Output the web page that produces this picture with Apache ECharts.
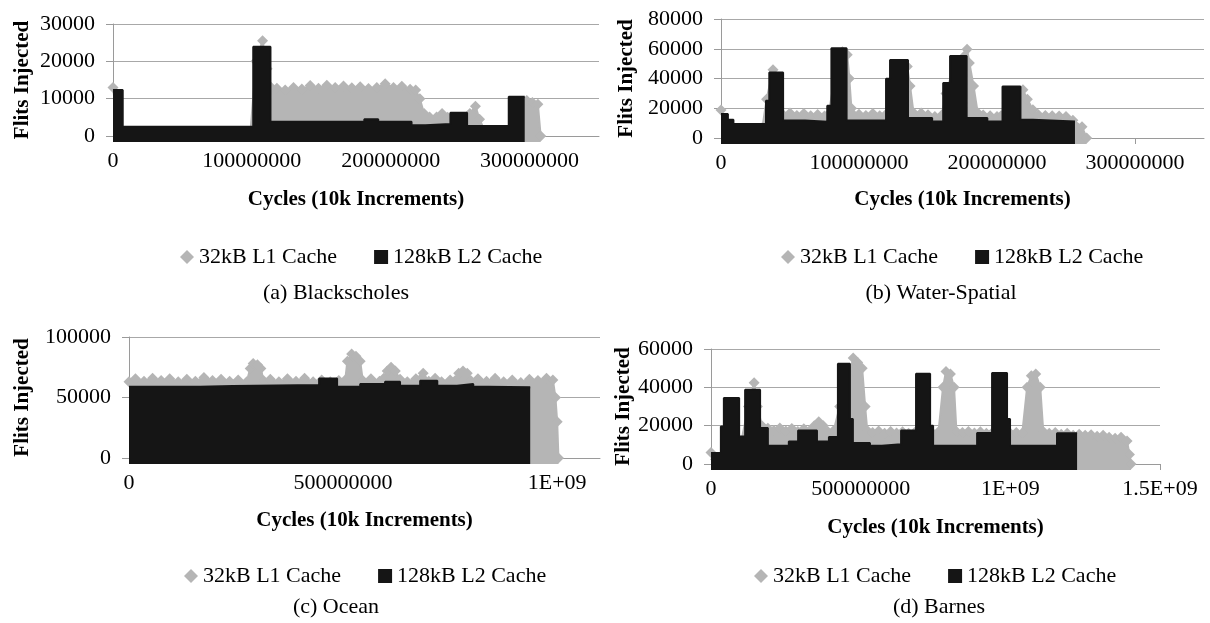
<!DOCTYPE html>
<html><head><meta charset="utf-8">
<script src="https://cdn.jsdelivr.net/npm/echarts@6/dist/echarts.min.js"></script>
<style>html,body{margin:0;padding:0;background:#fff}#c{width:1210px;height:623px}</style>
</head><body><div id="c"></div>
<script>
// ---------- DATA (x in millions of cycles, y in flits injected) ----------
const seriesNames = ['32kB L1 Cache', '128kB L2 Cache'];
const captions = ['(a) Blackscholes', '(b) Water-Spatial', '(c) Ocean', '(d) Barnes'];
const xAxisTitle = 'Cycles (10k Increments)';
const yAxisTitle = 'Flits Injected';

// (a) Blackscholes
const aL1X = [0, 4, 99, 103, 107.7, 111, 114, 118, 124, 130, 136, 142, 148, 154, 160, 166, 172, 178, 184, 190, 196, 202, 208, 214, 218, 221, 224, 228, 233, 237, 241, 250, 257, 261, 264, 268, 284, 298, 302, 306, 308];
const aL1Y = [13000, 1000, 1000, 20000, 25500, 18000, 13000, 12800, 12300, 13000, 12600, 13500, 12800, 13600, 13000, 13400, 12900, 13200, 12700, 13000, 14000, 13000, 13300, 12500, 12300, 10000, 6000, 5100, 5100, 6000, 5000, 4500, 6000, 8000, 4500, 1000, 1000, 9500, 9000, 8500, 0];
const aL2X = [0, 7, 101, 113.4, 181, 191, 215, 225, 243, 255, 285, 296.5];
const aL2Y = [12300, 2500, 23900, 3800, 4500, 3800, 2900, 3200, 6200, 2700, 10500, 10500];

// (b) Water-Spatial
const bL1X = [0, 4, 30, 33, 37.7, 41, 45, 50, 55, 60, 65, 70, 75, 78, 84, 88, 91.5, 93, 94.5, 96, 100, 105, 110, 115, 119, 128, 135, 137, 139.5, 145, 150, 155, 160, 163, 170, 178.3, 180, 183, 186, 190, 195, 200, 203, 210, 218.8, 222, 226, 230, 235, 240, 245, 250, 255, 261.6, 265];
const bL1Y = [18900, 8000, 7000, 26000, 45800, 30000, 15600, 16800, 15200, 16500, 15000, 15800, 14800, 16000, 50000, 58000, 56000, 40000, 20000, 15600, 16000, 15200, 16500, 15000, 15500, 48000, 48000, 35000, 17000, 16800, 15600, 14500, 15500, 30000, 52000, 59700, 50500, 35000, 17000, 15500, 15000, 14500, 15000, 30000, 32400, 26000, 19000, 15600, 15200, 15000, 14800, 14500, 12000, 7500, 0];
const bL2X = [0, 5, 9, 32.6, 35, 45, 61, 77, 80, 91, 119.6, 122.5, 135.5, 153, 161, 166, 178, 193, 204, 217, 226, 256.5];
const bL2Y = [16200, 12200, 9400, 25000, 44000, 11800, 11000, 21700, 60400, 11800, 39800, 52500, 13400, 11100, 36900, 55200, 13400, 11100, 34600, 12300, 11100, 11100];

// (c) Ocean
const cL1X = [0, 15, 35, 55, 75, 95, 115, 135, 155, 175, 195, 215, 235, 255, 275, 283, 290, 300, 308, 314, 330, 350, 370, 390, 410, 430, 450, 470, 490, 505, 510, 520, 530, 540, 546, 565, 585, 595, 603, 612, 622, 633, 650, 670, 687, 700, 715, 730, 750, 762, 770, 780, 790, 798, 815, 835, 855, 875, 895, 915, 935, 955, 975, 990, 996, 1000, 1003];
const cL1Y = [63000, 65500, 63500, 66000, 64000, 65500, 63000, 65000, 63500, 66500, 64000, 65000, 63500, 64500, 63000, 74000, 78000, 77000, 74000, 64000, 65000, 63000, 65500, 63500, 66000, 63000, 64500, 63000, 64000, 64500, 80000, 86000, 84000, 80000, 64000, 65500, 63500, 66000, 72000, 75000, 72000, 65000, 63000, 65500, 70000, 63500, 66000, 63000, 64500, 64000, 70000, 72000, 70000, 64000, 65500, 63500, 66000, 63000, 64500, 62500, 65000, 64000, 66000, 64500, 50000, 30000, 0];
const cL2X = [0, 166, 243, 444, 486, 540, 598, 633, 680, 720, 766, 804, 839, 937];
const cL2Y = [58900, 59500, 60300, 65800, 58900, 61100, 63000, 59700, 63800, 59700, 61100, 58900, 58400, 58400];

// (d) Barnes
const dL1X = [0, 15, 60, 100, 125, 144, 155, 170, 190, 210, 230, 250, 270, 290, 310, 330, 345, 360, 375, 390, 410, 430, 460, 475, 490, 505, 515, 522, 540, 560, 580, 600, 620, 640, 660, 680, 700, 720, 740, 760, 775, 785, 800, 812, 820, 840, 860, 880, 900, 920, 940, 960, 980, 1000, 1020, 1040, 1056, 1070, 1085, 1100, 1110, 1130, 1150, 1170, 1190, 1210, 1230, 1250, 1270, 1290, 1310, 1330, 1350, 1370, 1390, 1398, 1403];
const dL1Y = [6000, 2500, 10000, 11000, 30000, 42400, 30000, 20000, 18600, 17500, 18800, 17200, 18500, 17000, 18400, 17500, 20000, 22000, 20000, 17000, 17500, 30000, 45000, 55300, 53000, 50000, 30000, 17500, 16500, 17200, 16000, 17000, 16200, 16800, 16000, 16500, 16000, 16800, 16200, 16800, 40000, 48300, 47000, 40000, 17000, 16500, 17000, 16200, 16800, 16000, 16500, 16000, 16800, 16000, 16500, 16200, 40000, 46000, 47000, 40000, 17000, 16000, 16500, 15500, 16000, 15000, 15500, 15000, 15300, 14500, 15000, 14000, 13500, 14000, 12000, 5000, 0];
const dL2X = [0, 33, 43, 94, 114, 164, 190, 260, 291, 354, 394, 424, 464, 474, 531, 571, 635, 685, 732, 742, 889, 939, 989, 999, 1156, 1223];
const dL2Y = [5700, 19600, 34400, 14400, 38800, 18800, 9500, 11800, 17500, 11800, 14100, 52300, 23500, 11000, 9500, 10300, 17500, 47100, 20000, 9500, 16200, 47500, 23500, 9500, 16000, 16000];

// tick values
const xTicksA = [0, 100000000, 200000000, 300000000];
const xTicksB = [0, 100000000, 200000000, 300000000];
const xTicksC = [0, 500000000, 1000000000];
const xTicksD = [0, 500000000, 1000000000, 1500000000];
const yTicksA = [0, 10000, 20000, 30000];
const yTicksB = [0, 20000, 40000, 60000, 80000];
const yTicksC = [0, 50000, 100000];
const yTicksD = [0, 20000, 40000, 60000];

// ---------- LAYOUT / STYLE ----------
const FONT = '"Liberation Serif", "Times New Roman", serif';
const GRAY = '#b5b5b5';
const BLACK = '#151515';
const GRID_C = '#a8a8a8';
const AXIS_C = '#9a9a9a';
const FS = 22;
const MARKER_OVERHANG_PX = 6; // markers in the original spill slightly below the zero line

const panels = [
  {l1x:aL1X,l1y:aL1Y,l2x:aL2X,l2y:aL2Y,xt:xTicksA,yt:yTicksA,xMax:350e6,
   grid:{left:113,top:24,width:486,height:112},yGap:80,xGap:53,legC:361,legY:246,capC:336,capY:282},
  {l1x:bL1X,l1y:bL1Y,l2x:bL2X,l2y:bL2Y,xt:xTicksB,yt:yTicksB,xMax:350e6,
   grid:{left:721,top:19,width:483,height:119},yGap:84,xGap:51,legC:962,legY:246,capC:941,capY:282},
  {l1x:cL1X,l1y:cL1Y,l2x:cL2X,l2y:cL2Y,xt:xTicksC,yt:yTicksC,xMax:1.1e9,
   grid:{left:129,top:337,width:471,height:121},yGap:96,xGap:52,legC:365,legY:565,capC:336,capY:596},
  {l1x:dL1X,l1y:dL1Y,l2x:dL2X,l2y:dL2Y,xt:xTicksD,yt:yTicksD,xMax:1.5e9,
   grid:{left:711,top:349,width:449,height:115},yGap:76,xGap:53,legC:935,legY:565,capC:939,capY:596}
];

function fmtX(v){
  if (v === 0) return '0';
  if (v >= 1e9) return (v/1e9) + 'E+09';
  return String(Math.round(v));
}
function fmtY(v){ return String(Math.round(v)); }

const ctx = document.createElement('canvas').getContext('2d');
ctx.font = FS + 'px ' + FONT;
const ITEM_W = 14, ITEM_GAP = 37, ICON_GAP = 5;
const legW = ctx.measureText(seriesNames[0]).width + ctx.measureText(seriesNames[1]).width + 2*ITEM_W + 2*ICON_GAP + ITEM_GAP;

const option = {
  animation:false,
  backgroundColor:'#fff',
  textStyle:{fontFamily:FONT},
  grid:[], xAxis:[], yAxis:[], series:[], legend:[], title:[]
};

panels.forEach((p, i) => {
  const yMax = p.yt[p.yt.length-1];
  const below = -MARKER_OVERHANG_PX * yMax / p.grid.height;
  option.grid.push(Object.assign({containLabel:false}, p.grid));
  option.xAxis.push({
    type:'value', gridIndex:i, min:0, max:p.xMax,
    name:xAxisTitle, nameLocation:'middle', nameGap:p.xGap,
    nameTextStyle:{fontFamily:FONT,fontSize:21,fontWeight:'bold',color:'#000'},
    axisLine:{show:true,onZero:false,lineStyle:{color:AXIS_C,width:1}},
    axisTick:{show:true,length:6,customValues:p.xt,lineStyle:{color:AXIS_C}},
    axisLabel:{customValues:p.xt,formatter:fmtX,fontFamily:FONT,fontSize:FS,color:'#000',margin:14},
    splitLine:{show:false}
  });
  option.yAxis.push({
    type:'value', gridIndex:i, min:0, max:yMax, interval:p.yt[1],
    name:yAxisTitle, nameLocation:'middle', nameGap:p.yGap,
    nameTextStyle:{fontFamily:FONT,fontSize:21,fontWeight:'bold',color:'#000'},
    axisLine:{show:true,lineStyle:{color:AXIS_C,width:1}},
    axisTick:{show:true,length:7,lineStyle:{color:AXIS_C}},
    axisLabel:{formatter:fmtY,fontFamily:FONT,fontSize:FS,color:'#000',margin:18},
    splitLine:{show:true,lineStyle:{color:GRID_C,width:1}}
  });
  option.series.push({
    type:'line', name:seriesNames[0], xAxisIndex:i, yAxisIndex:i, clip:false,
    data:p.l1x.map((x,k)=>[x*1e6, p.l1y[k]]),
    symbol:'diamond', symbolSize:11, showSymbol:true, showAllSymbol:true,
    itemStyle:{color:GRAY}, lineStyle:{color:GRAY,width:2},
    areaStyle:{color:GRAY,opacity:1,origin:below}, z:2, silent:true
  });
  option.series.push({
    type:'line', name:seriesNames[1], xAxisIndex:i, yAxisIndex:i, step:'end', clip:false,
    data:p.l2x.map((x,k)=>[x*1e6, p.l2y[k]]),
    symbol:'none', itemStyle:{color:BLACK}, lineStyle:{color:BLACK,width:2},
    areaStyle:{color:BLACK,opacity:1,origin:below}, z:3, silent:true
  });
  option.legend.push({
    left: Math.round(p.legC - legW/2), top:p.legY, padding:0,
    itemWidth:ITEM_W, itemHeight:14, itemGap:ITEM_GAP, selectedMode:false,
    textStyle:{fontFamily:FONT,fontSize:FS,color:'#000'},
    data:[{name:seriesNames[0],icon:'diamond',itemStyle:{color:GRAY}},{name:seriesNames[1],icon:'rect',itemStyle:{color:BLACK}}]
  });
  option.title.push({
    text:captions[i], left:p.capC, top:p.capY, textAlign:'center', padding:0,
    textStyle:{fontFamily:FONT,fontSize:FS,fontWeight:'normal',color:'#000'}
  });
});

const chart = echarts.init(document.getElementById('c'), null, {renderer:'canvas', width:1210, height:623});
chart.setOption(option);
</script></body></html>
